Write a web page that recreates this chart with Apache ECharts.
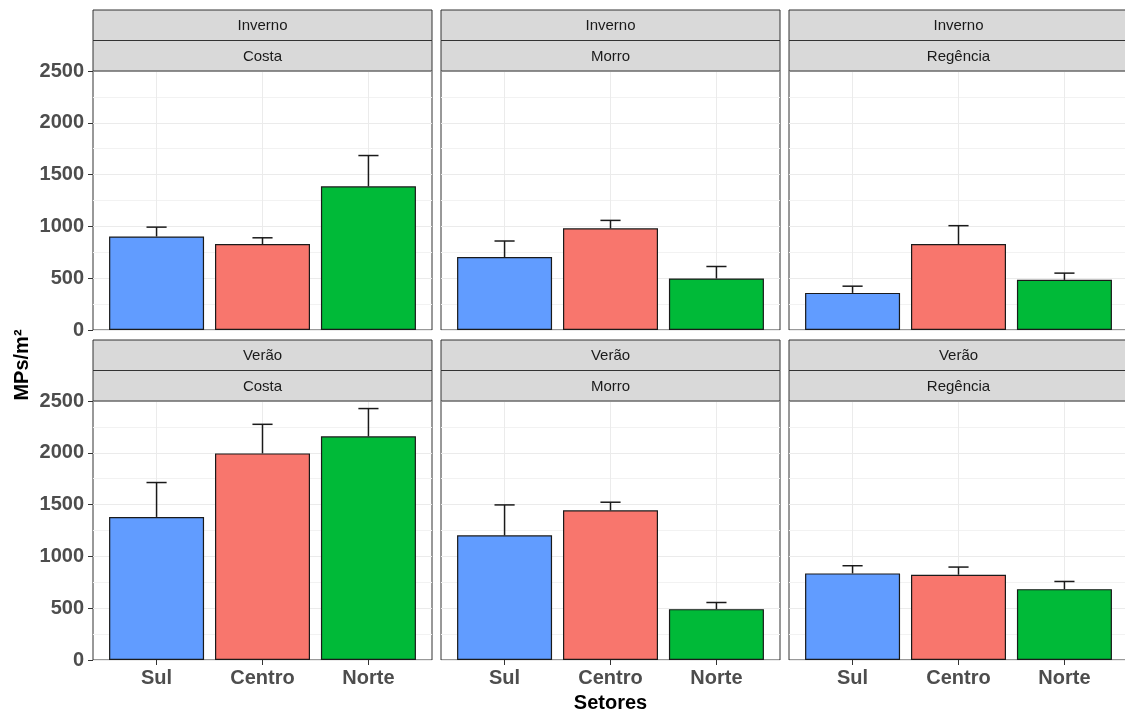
<!DOCTYPE html>
<html>
<head>
<meta charset="utf-8">
<script src="https://cdn.jsdelivr.net/npm/echarts@6/dist/echarts.min.js"></script>
<style>
html,body{margin:0;padding:0;background:#fff;}
#chart{width:1125px;height:715px;}
</style>
</head>
<body>
<div id="chart"></div>
<script>
// ---- data ----
const sectors = ['Sul', 'Centro', 'Norte'];
const seasons = ['Inverno', 'Verão'];
const sites = ['Costa', 'Morro', 'Regência'];
const sectorColors = ['#619CFF', '#F8766D', '#00BA38'];
const yTicks = [0, 500, 1000, 1500, 2000, 2500];

const invernoCostaMean = [903, 829, 1387];
const invernoCostaUpper = [993, 890, 1684];
const invernoMorroMean = [704, 981, 497];
const invernoMorroUpper = [859, 1058, 613];
const invernoRegenciaMean = [358, 829, 484];
const invernoRegenciaUpper = [423, 1007, 549];

const veraoCostaMean = [1381, 1994, 2159];
const veraoCostaUpper = [1713, 2275, 2427];
const veraoMorroMean = [1203, 1445, 491];
const veraoMorroUpper = [1497, 1523, 555];
const veraoRegenciaMean = [836, 823, 684];
const veraoRegenciaUpper = [910, 897, 758];

const panelMeans = [
  [invernoCostaMean, invernoMorroMean, invernoRegenciaMean],
  [veraoCostaMean, veraoMorroMean, veraoRegenciaMean]
];
const panelUppers = [
  [invernoCostaUpper, invernoMorroUpper, invernoRegenciaUpper],
  [veraoCostaUpper, veraoMorroUpper, veraoRegenciaUpper]
];

// ---- layout ----
const FONT = '"Liberation Sans", Arial, sans-serif';
const colLeft = [93, 441, 789];
const panelW = 339;
const rowStripTop = [10, 340];
const stripH = 30.5;
const rowPanelTop = [71, 401];
const panelH = 259;

const grids = [], xAxes = [], yAxes = [], series = [], graphics = [];
let idx = 0;
for (let r = 0; r < 2; r++) {
  for (let c = 0; c < 3; c++) {
    grids.push({
      left: colLeft[c], top: rowPanelTop[r], width: panelW, height: panelH,
      show: true, borderColor: '#333333', borderWidth: 1, backgroundColor: '#ffffff',
      containLabel: false, outerBoundsMode: 'none'
    });
    const bottomRow = r === 1;
    xAxes.push({
      gridIndex: idx, type: 'value', min: 0.4, max: 3.6,
      axisLine: { show: false },
      axisTick: { show: bottomRow, length: 5, lineStyle: { color: '#333333' }, customValues: [1, 2, 3] },
      axisLabel: {
        show: bottomRow, customValues: [1, 2, 3], margin: 8,
        formatter: v => sectors[Math.round(v) - 1] || '',
        fontFamily: FONT, fontWeight: 'bold', fontSize: 20, color: '#4D4D4D'
      },
      splitLine: { show: true, customValues: [1, 2, 3], lineStyle: { color: '#EBEBEB', width: 1 } },
      name: (bottomRow && c === 1) ? 'Setores' : '',
      nameLocation: 'middle', nameGap: 33,
      nameTextStyle: { fontFamily: FONT, fontWeight: 'bold', fontSize: 20, color: '#000000' }
    });
    yAxes.push({
      gridIndex: idx, type: 'value', min: 0, max: 2500, interval: 500,
      axisLine: { show: false },
      axisTick: { show: c === 0, length: 5, lineStyle: { color: '#333333' } },
      axisLabel: {
        show: c === 0, margin: 9,
        formatter: v => String(v),
        fontFamily: FONT, fontWeight: 'bold', fontSize: 20, color: '#4D4D4D'
      },
      splitLine: { show: true, lineStyle: { color: '#EBEBEB', width: 1 } },
      minorTick: { show: false, splitNumber: 2 },
      minorSplitLine: { show: true, lineStyle: { color: '#F2F2F2', width: 1 } }
    });
    const means = panelMeans[r][c];
    const uppers = panelUppers[r][c];
    series.push({
      type: 'bar', xAxisIndex: idx, yAxisIndex: idx, barWidth: 95,
      data: means.map((v, i) => ({
        value: [i + 1, v],
        itemStyle: { color: sectorColors[i], borderColor: '#1a1a1a', borderWidth: 1.2 }
      })),
      silent: true, animation: false, z: 2
    });
    series.push({
      type: 'custom', xAxisIndex: idx, yAxisIndex: idx,
      data: means.map((v, i) => [i + 1, v, uppers[i]]),
      encode: { x: 0, y: [1, 2] },
      renderItem: (params, api) => {
        const x = api.value(0);
        const lo = api.coord([x, api.value(1)]);
        const hi = api.coord([x, api.value(2)]);
        const half = api.size([0.095, 0])[0];
        const st = { stroke: '#1a1a1a', lineWidth: 1.5 };
        return {
          type: 'group', children: [
            { type: 'line', shape: { x1: lo[0], y1: lo[1], x2: hi[0], y2: hi[1] }, style: st },
            { type: 'line', shape: { x1: hi[0] - half, y1: hi[1], x2: hi[0] + half, y2: hi[1] }, style: st }
          ]
        };
      },
      silent: true, animation: false, z: 3
    });
    // strips
    const labels = [seasons[r], sites[c]];
    for (let k = 0; k < 2; k++) {
      const y0 = rowStripTop[r] + k * stripH;
      graphics.push({
        type: 'rect', silent: true, z: 10,
        shape: { x: colLeft[c], y: y0, width: panelW, height: stripH },
        style: { fill: '#D9D9D9', stroke: '#333333', lineWidth: 1 }
      });
      graphics.push({
        type: 'text', silent: true, z: 11,
        x: colLeft[c] + panelW / 2, y: y0 + stripH / 2 + 1,
        style: {
          text: labels[k], textAlign: 'center', textVerticalAlign: 'middle',
          align: 'center', verticalAlign: 'middle',
          font: '15px ' + FONT, fill: '#1A1A1A'
        }
      });
    }
    idx++;
  }
}
graphics.push({
  type: 'text', silent: true, z: 11,
  x: 22, y: 365, rotation: Math.PI / 2,
  style: {
    text: 'MPs/m²', textAlign: 'center', textVerticalAlign: 'middle',
    align: 'center', verticalAlign: 'middle',
    font: 'bold 20px ' + FONT, fill: '#000000'
  }
});

const chart = echarts.init(document.getElementById('chart'), null, { renderer: 'canvas' });
chart.setOption({
  animation: false,
  backgroundColor: '#ffffff',
  grid: grids,
  xAxis: xAxes,
  yAxis: yAxes,
  series: series,
  graphic: graphics
});
</script>
</body>
</html>
